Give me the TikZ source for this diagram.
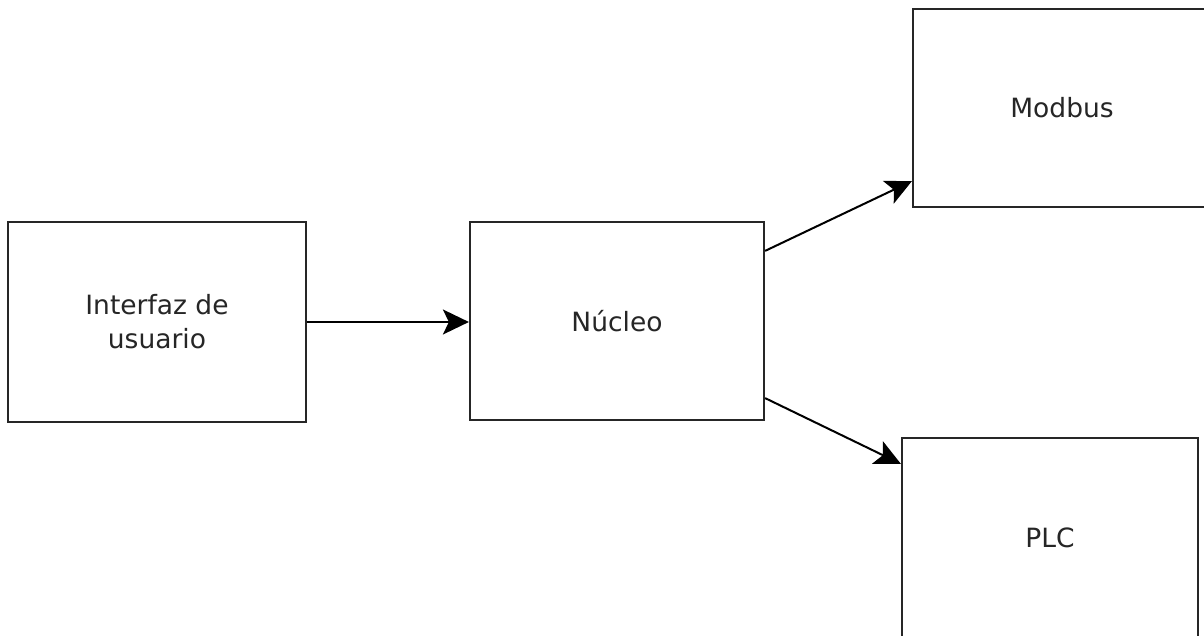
\documentclass[tikz,border=0pt]{standalone}
\usepackage{fontspec}
\setmainfont{DejaVu Sans}
\usetikzlibrary{arrows.meta}
\begin{document}
\begin{tikzpicture}[x=1pt,y=-1pt,
  blk/.style={draw=black!85, line width=2.2pt, rectangle, inner sep=0pt,
    align=center, text=black!85, font=\fontsize{26.5}{34}\selectfont},
  arr/.style={draw=black, line width=2pt,
    -{Stealth[length=26pt,width=25pt,inset=6pt,fill=black]}}]
\useasboundingbox (0,0) rectangle (1204,636);
\fill[white] (0,0) rectangle (1204,636);
\node[blk, minimum width=298pt, minimum height=200pt] (ui) at (157,322) {Interfaz de\\usuario};
\node[blk, minimum width=294pt, minimum height=198pt] (nucleo) at (617,321) {Núcleo};
\node[blk, minimum width=298pt, minimum height=198pt] (modbus) at (1062,108) {Modbus};
\node[blk, minimum width=296pt, minimum height=200pt] (plc) at (1050,538) {PLC};
\draw[arr] (ui.east) -- (ui.east -| nucleo.west);
\draw[arr] ([yshift=-30pt]nucleo.north east) -- ([yshift=27pt]modbus.south west);
\draw[arr] ([yshift=23pt]nucleo.south east) -- ([yshift=-27pt]plc.north west);
\end{tikzpicture}
\end{document}
